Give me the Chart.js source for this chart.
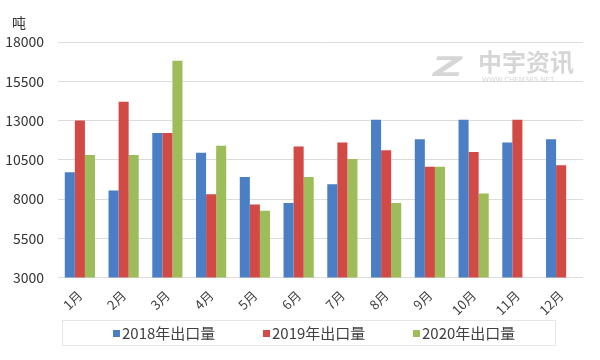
<!DOCTYPE html>
<html>
<head>
<meta charset="utf-8">
<script src="https://cdn.jsdelivr.net/npm/chart.js@4"></script>
<style>
  html, body { margin: 0; padding: 0; background: #fff; }
  #wrap { width: 600px; height: 360px; }
</style>
</head>
<body>
<div id="wrap"><canvas id="myChart" width="600" height="360"></canvas></div>
<script>
// Data
const months = ["1月", "2月", "3月", "4月", "5月", "6月", "7月", "8月", "9月", "10月", "11月", "12月"];
const series_names = ["2018年出口量", "2019年出口量", "2020年出口量"];
const export_2018 = [9700, 8550, 12200, 10950, 9400, 7750, 8950, 13050, 11800, 13050, 11600, 11800];
const export_2019 = [13000, 14200, 12200, 8300, 7650, 11350, 11600, 11100, 10050, 11000, 13050, 10150];
const export_2020 = [10800, 10800, 16800, 11400, 7250, 9400, 10550, 7750, 10050, 8350, null, null];
const y_ticks = [3000, 5500, 8000, 10500, 13000, 15500, 18000];
const unit = "吨";

const colors = ["#4a7ec5", "#d24a46", "#9cbd5a"];
Chart.defaults.font.family = '"Noto Sans CJK SC", "Noto Sans", sans-serif';
Chart.defaults.color = "#404040";

// unit label, boxed legend along the bottom
const extras = {
  id: "extras",
  afterDraw(chart) {
    const ctx = chart.ctx;
    ctx.save();
    ctx.fillStyle = "#333";
    ctx.font = '14px "Noto Sans CJK SC"';
    ctx.textBaseline = "middle";
    ctx.fillText(unit, 12, 23);

    ctx.strokeStyle = "#e6e6e6";
    ctx.lineWidth = 1;
    ctx.strokeRect(62.5, 320.5, 493, 25);
    ctx.font = '15px "Noto Sans CJK SC"';
    chart.data.datasets.forEach(function(ds, i) {
      var x = 113 + i * 150;
      ctx.fillStyle = ds.backgroundColor;
      ctx.fillRect(x, 330, 7, 7);
      ctx.fillStyle = "#404040";
      ctx.fillText(ds.label, x + 9, 333);
    });
    ctx.restore();
  }
};

// faint watermark in the top right
const watermark = {
  id: "watermark",
  beforeDatasetsDraw(chart) {
    const ctx = chart.ctx;
    ctx.save();
    ctx.fillStyle = "#d6d6d6";
    ctx.save();
    ctx.translate(430, 76);
    ctx.transform(1, 0, -0.25, 1, 0, 0);
    ctx.scale(1.3, 0.85);
    ctx.font = 'bold 32px "DejaVu Sans"';
    ctx.fillText("Z", 0, 0);
    ctx.restore();
    ctx.font = 'bold 24px "Noto Sans CJK SC"';
    ctx.textBaseline = "alphabetic";
    ctx.fillText("中宇资讯", 478, 71);
    ctx.font = '7px "DejaVu Sans"';
    ctx.fillText("WWW.CHEM365.NET", 482, 82);
    ctx.restore();
  }
};

var ctx = document.getElementById("myChart");
var chart = new Chart(ctx, {
  type: "bar",
  data: {
    labels: months,
    datasets: [
      { label: series_names[0], data: export_2018, backgroundColor: colors[0] },
      { label: series_names[1], data: export_2019, backgroundColor: colors[1] },
      { label: series_names[2], data: export_2020, backgroundColor: colors[2] }
    ]
  },
  options: {
    responsive: false,
    animation: false,
    devicePixelRatio: 1,
    layout: { padding: { left: 6, right: 17, top: 42, bottom: 40 } },
    datasets: {
      bar: { barPercentage: 1.0, categoryPercentage: 0.69 }
    },
    plugins: {
      legend: { display: false },
      tooltip: { enabled: false }
    },
    scales: {
      x: {
        grid: { display: false },
        border: { display: false },
        ticks: { maxRotation: 45, minRotation: 45, font: { size: 13 }, padding: 2 },
        afterFit: function(scale) { scale.paddingLeft = 0; }
      },
      y: {
        min: 3000,
        max: 18000,
        afterBuildTicks: function(axis) {
          axis.ticks = y_ticks.map(function(v) { return { value: v }; });
        },
        afterFit: function(scale) { scale.width = 52; },
        grid: { color: "#dcdcdc", drawTicks: false },
        border: { display: false },
        ticks: {
          font: { size: 14 }, padding: 14, color: "#333",
          callback: function(v) { return String(v); }
        }
      }
    }
  },
  plugins: [watermark, extras]
});
</script>
</body>
</html>
